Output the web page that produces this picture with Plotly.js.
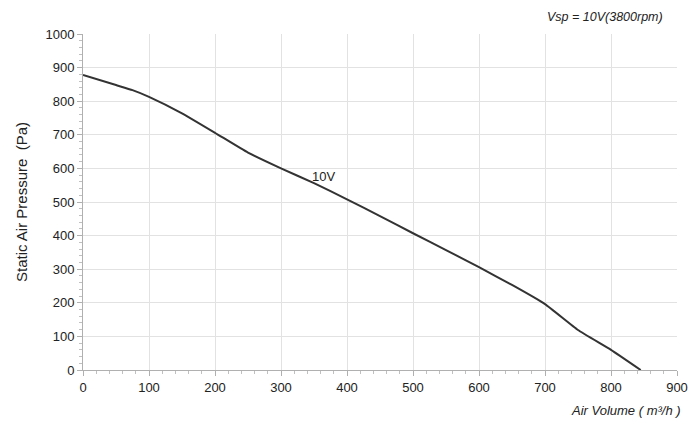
<!DOCTYPE html>
<html>
<head>
<meta charset="utf-8">
<script src="https://cdn.plot.ly/plotly-3.0.1.min.js"></script>
<style>
  html, body { margin: 0; padding: 0; background: #fff; }
  #chart { width: 700px; height: 422px; }
</style>
</head>
<body>
<div id="chart"></div>
<script>
// fan curve at Vsp = 10V
var airVolume = [0, 50, 75, 100, 150, 200, 250, 300, 350, 400, 450, 500, 550, 600, 650, 700, 750, 800, 845];
var pressure  = [878, 848, 833, 813, 764, 706, 647, 600, 556, 508, 458, 407, 357, 306, 253, 196, 119, 60, 0];
var curveName = '10V';
var speedNote = 'Vsp = 10V(3800rpm)';

var font = 'Liberation Sans, Arial, sans-serif';

var trace = {
    x: airVolume,
    y: pressure,
    mode: 'lines',
    name: curveName,
    line: { color: '#333333', width: 2, shape: 'spline', smoothing: 0.4 },
    hoverinfo: 'skip'
};

var axisCommon = {
    showline: true,
    linecolor: '#b0b0b0',
    linewidth: 1,
    showgrid: true,
    gridcolor: '#e2e2e2',
    gridwidth: 1,
    zeroline: false,
    ticks: 'outside',
    ticklen: 5,
    tickcolor: '#b0b0b0',
    tickfont: { family: font, size: 13, color: '#222' },
    minor: { dtick: 20, ticks: 'outside', ticklen: 3, tickcolor: '#c0c0c0', showgrid: false }
};

var layout = {
    width: 700,
    height: 422,
    margin: { l: 83, r: 23, t: 34, b: 52 },
    paper_bgcolor: '#fff',
    plot_bgcolor: '#fff',
    showlegend: false,
    xaxis: Object.assign({}, axisCommon, {
        range: [0, 900],
        dtick: 100,
        tick0: 0
    }),
    yaxis: Object.assign({}, axisCommon, {
        range: [0, 1000],
        dtick: 100,
        tick0: 0,
        title: { text: 'Static Air Pressure  (Pa)', font: { family: font, size: 15, color: '#222' }, standoff: 14 }
    }),
    annotations: [
        {
            x: 365, y: 575, xref: 'x', yref: 'y',
            text: curveName, showarrow: false,
            font: { family: font, size: 13, color: '#222' }
        },
        {
            x: 1, y: 1, xref: 'paper', yref: 'paper',
            xanchor: 'right', yanchor: 'bottom', yshift: 8, xshift: -12,
            text: '<i>' + speedNote + '</i>', showarrow: false,
            font: { family: font, size: 12.5, color: '#222' }
        },
        {
            x: 1, y: 0, xref: 'paper', yref: 'paper',
            xanchor: 'right', yanchor: 'top', yshift: -31, xshift: 6,
            text: '<i>Air Volume ( m³/h )</i>', showarrow: false,
            font: { family: font, size: 13, color: '#222' }
        }
    ]
};

Plotly.newPlot('chart', [trace], layout, { displayModeBar: false, staticPlot: true });
</script>
</body>
</html>
